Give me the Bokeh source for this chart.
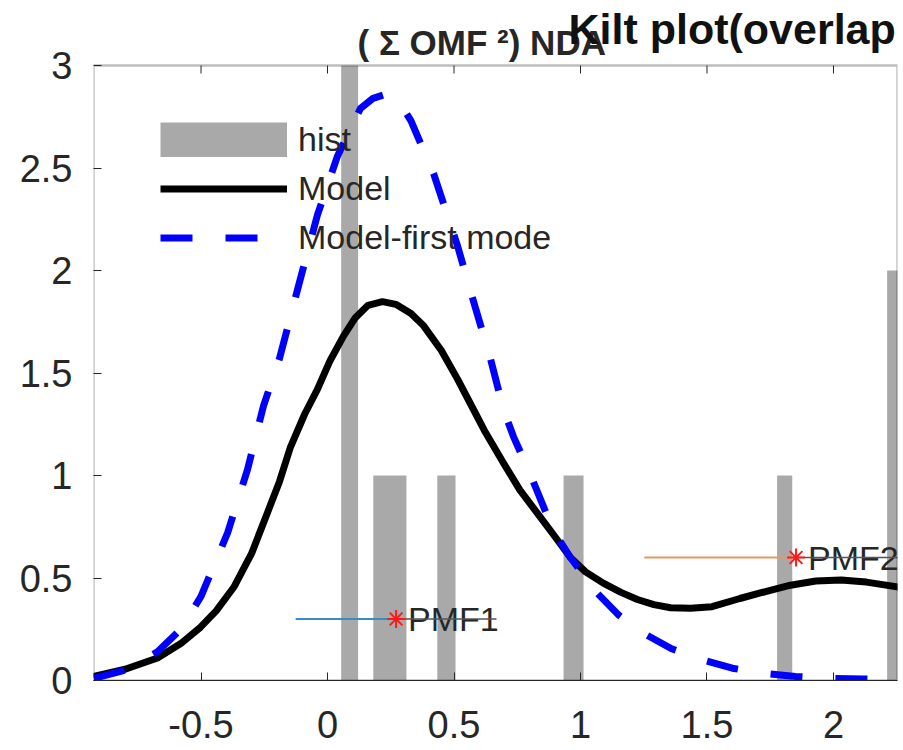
from bokeh.plotting import figure
from bokeh.models import Range1d, Label, Legend, LegendItem, FixedTicker, BoxAnnotation
from bokeh.core.properties import value
from bokeh.embed import file_html
from bokeh.resources import INLINE

# ---------------- data ----------------
x_ticks = [-0.5, 0, 0.5, 1, 1.5, 2]
x_tick_labels = ["-0.5", "0", "0.5", "1", "1.5", "2"]
y_ticks = [0, 0.5, 1, 1.5, 2, 2.5, 3]
y_tick_labels = ["0", "0.5", "1", "1.5", "2", "2.5", "3"]

# histogram bars
bar_left = [0.054, 0.181, 0.434, 0.933, 1.777, 2.212]
bar_right = [0.121, 0.312, 0.506, 1.012, 1.837, 2.300]
bar_height = [3.0, 1.0, 1.0, 1.0, 1.0, 2.0]

# "Model" curve (black)
model_x = [-0.925, -0.80, -0.672, -0.58, -0.502, -0.44, -0.37, -0.30, -0.237, -0.19,
           -0.146, -0.09, -0.04, 0.01, 0.063, 0.11, 0.16, 0.217, 0.27, 0.33,
           0.38, 0.45, 0.514, 0.565, 0.62, 0.696, 0.76, 0.83, 0.90, 0.96,
           1.02, 1.09, 1.16, 1.225, 1.29, 1.356, 1.435, 1.52, 1.63, 1.75,
           1.83, 1.93, 2.03, 2.13, 2.26]
model_y = [0.02, 0.055, 0.11, 0.18, 0.26, 0.34, 0.456, 0.62, 0.82, 0.97,
           1.14, 1.30, 1.42, 1.56, 1.68, 1.77, 1.83, 1.848, 1.835, 1.79,
           1.73, 1.61, 1.47, 1.35, 1.22, 1.06, 0.93, 0.815, 0.70, 0.60,
           0.53, 0.475, 0.43, 0.395, 0.37, 0.355, 0.352, 0.36, 0.40, 0.44,
           0.465, 0.485, 0.49, 0.48, 0.455]

# "Model-first mode" curve (blue dashed)
first_x = [-0.925, -0.80, -0.672, -0.58, -0.50, -0.395, -0.316, -0.253, -0.19, -0.12,
           -0.04, 0.04, 0.13, 0.18, 0.23, 0.28, 0.33, 0.42, 0.514, 0.565,
           0.644, 0.696, 0.735, 0.80, 0.893, 0.96, 1.067, 1.15, 1.25, 1.36,
           1.486, 1.60, 1.72, 1.85, 1.99, 2.12, 2.26]
first_y = [0.01, 0.05, 0.14, 0.25, 0.41, 0.72, 1.03, 1.34, 1.57, 1.90,
           2.27, 2.56, 2.79, 2.84, 2.86, 2.83, 2.73, 2.47, 2.12, 1.90,
           1.57, 1.32, 1.19, 1.01, 0.73, 0.60, 0.425, 0.32, 0.23, 0.155,
           0.10, 0.06, 0.035, 0.02, 0.01, 0.007, 0.005]

# PMF markers
pmf_names = ["PMF1", "PMF2"]
pmf_x = [0.271, 1.852]
pmf_y = [0.30, 0.60]
pmf_lo = [-0.126, 1.252]
pmf_hi = [0.668, 2.452]
pmf_colors = ["#3a8cc0", "#e39a62"]

title_main = "Kilt plot(overlap"
title_sub = "( Σ OMF ²) NDA"

hist_color = "#a9a9a9"
ink = "#262626"

# ---------------- layout constants ----------------
W, H = 903, 750
left_px, right_px, bottom_px = 93, 6, 70      # borders around the frame
axes_top_px = 65                                # top of the axes box (canvas px)
x0, x1 = -0.925, 2.253
y_top = y_ticks[-1]
px_per_y = (H - bottom_px - axes_top_px) / y_top
y_end = y_top + axes_top_px / px_per_y        # frame reaches the canvas top (room for titles)

p = figure(width=W, height=H,
           x_range=Range1d(x0, x1), y_range=Range1d(0, y_end),
           output_backend="svg", toolbar_location=None,
           min_border_left=left_px, min_border_top=0,
           min_border_bottom=bottom_px, min_border_right=right_px)
p.xgrid.visible = False
p.ygrid.visible = False
p.outline_line_color = None
p.background_fill_color = "white"
p.border_fill_color = "white"

for ax in (p.xaxis[0], p.yaxis[0]):
    ax.major_tick_in = 8
    ax.major_tick_out = 0
    ax.minor_tick_line_color = None
    ax.major_tick_line_color = ink
    ax.major_label_text_font = "Liberation Sans"
    ax.major_label_text_font_size = "38px"
    ax.major_label_text_color = ink

p.xaxis.axis_line_color = ink
p.xaxis.ticker = FixedTicker(ticks=x_ticks)
p.xaxis.major_label_overrides = dict(zip(x_ticks, x_tick_labels))
p.xaxis.major_label_standoff = 30
p.yaxis.axis_line_color = None
p.yaxis.ticker = FixedTicker(ticks=y_ticks)
p.yaxis.major_label_overrides = dict(zip(y_ticks, y_tick_labels))
p.yaxis.major_label_standoff = 21

# axes box (MATLAB style)
p.add_layout(BoxAnnotation(left=x0, right=x1, bottom=0, top=y_top,
                           fill_color=None, line_color=ink, line_width=2.4))

# histogram
r_hist = p.quad(left=bar_left, right=bar_right, top=bar_height, bottom=0,
                fill_color=hist_color, line_color=None)
# legend proxy for the histogram patch (a single NaN point draws nothing in the plot)
r_hist_proxy = p.line(x=[float("nan")], y=[float("nan")], line_color=hist_color,
                      line_width=35)

r_model = p.line(model_x, model_y, line_color="black", line_width=7, line_join="round")
r_first = p.line(first_x, first_y, line_color="#0000ff", line_width=7,
                 line_dash="32 33", line_join="round")

# inward ticks along the top of the axes box
p.segment(x0=x_ticks, x1=x_ticks, y0=[y_top] * len(x_ticks),
          y1=[y_top - 8 / px_per_y] * len(x_ticks), line_color=ink, line_width=1)

# PMF annotations
p.text(x=pmf_x, y=pmf_y, text=pmf_names, x_offset=12, text_baseline="middle",
       text_font=value("Liberation Sans"), text_font_size="34px", text_color=ink)
p.segment(x0=pmf_lo, y0=pmf_y, x1=pmf_x, y1=pmf_y, line_color=pmf_colors, line_width=2)
p.segment(x0=pmf_x, y0=pmf_y, x1=pmf_hi, y1=pmf_y, line_color="#555555", line_width=1.5)
p.scatter(x=pmf_x, y=pmf_y, marker="asterisk", size=18, line_color="#ff1a1a", line_width=2)

legend = Legend(items=[LegendItem(label="hist", renderers=[r_hist_proxy]),
                       LegendItem(label="Model", renderers=[r_model]),
                       LegendItem(label="Model-first mode", renderers=[r_first])],
                location=(67, 423), glyph_width=127, glyph_height=35,
                label_height=35, spacing=10, padding=0, margin=0,
                border_line_color=None, background_fill_alpha=0,
                label_text_font="Liberation Sans", label_text_font_size="34px",
                label_text_color=ink, label_standoff=11)
p.add_layout(legend)

# titles (placed in the frame area above the axes box)
def xdata(px):
    return x0 + (px - left_px) * (x1 - x0) / (W - left_px - right_px)

def ydata(py):
    return (H - bottom_px - py) / px_per_y

p.add_layout(Label(x=xdata(357), y=ydata(42), text=title_sub,
                   text_font="Liberation Sans", text_baseline="alphabetic",
                   text_font_style="bold", text_font_size="35px", text_color=ink))
p.add_layout(Label(x=xdata(568), y=ydata(28), text=title_main,
                   text_font="Liberation Sans", text_baseline="alphabetic",
                   text_font_style="bold", text_font_size="43px", text_color="#111111"))

open("out.html", "w").write(file_html(p, INLINE))
